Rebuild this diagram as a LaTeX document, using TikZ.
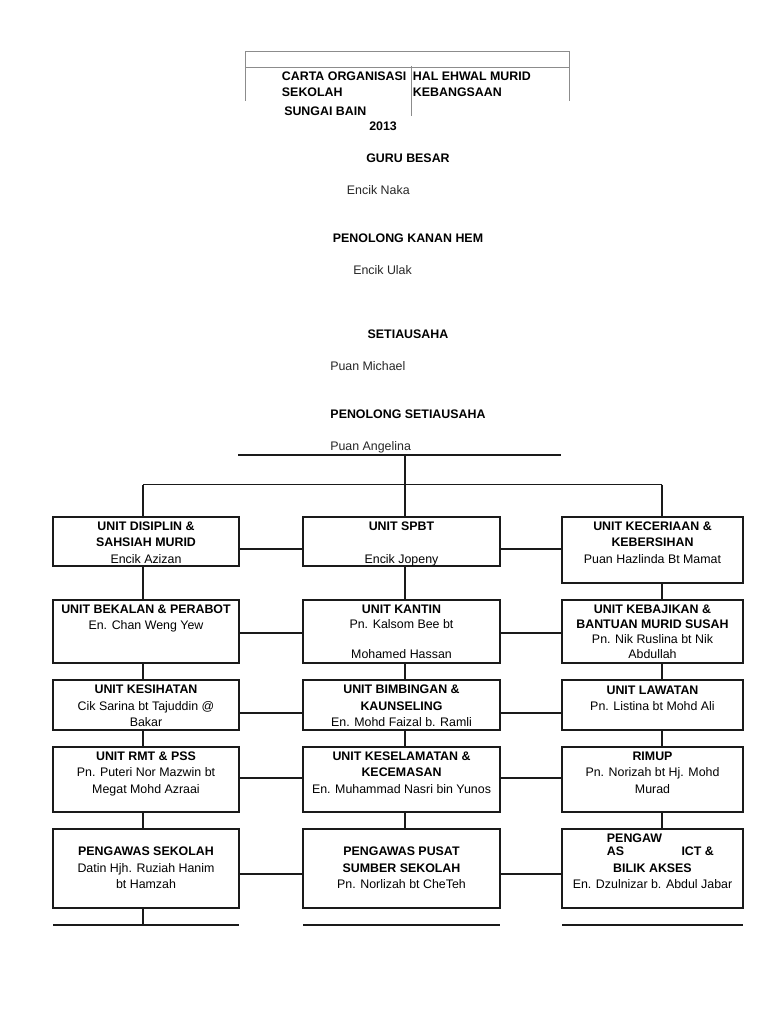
\documentclass[tikz,border=0pt]{standalone}
\usepackage{fontspec}
\setmainfont{Liberation Sans}
\usetikzlibrary{calc,fit}

\definecolor{framegray}{HTML}{8C8C8C}
\definecolor{boxline}{HTML}{1A1A1A}

\tikzset{
  unitbox/.style={draw=boxline, line width=1.5pt, inner sep=0pt, outer sep=0pt},
  unittext/.style={align=center, anchor=base, inner sep=0pt, font=\fontsize{9.3}{12.2}\selectfont},
  tighttext/.style={unittext, font=\fontsize{9.3}{11.3}\selectfont},
  headtext/.style={anchor=base, inner sep=0pt, font=\fontsize{9.3}{12.2}\selectfont\bfseries},
  titletext/.style={anchor=base west, inner sep=0pt, font=\fontsize{9.3}{12.2}\selectfont\bfseries},
  nametext/.style={anchor=base west, inner sep=0pt, font=\fontsize{9.3}{12.2}\selectfont, text=black!85},
  link/.style={draw=boxline, line width=1pt},
  floorline/.style={draw=boxline, line width=1.5pt},
  frameline/.style={draw=framegray, line width=0.75pt}
}

\begin{document}
\begin{tikzpicture}[x=0.75pt,y=-0.75pt]
    \useasboundingbox (0,0) rectangle (768,1024);

    \coordinate (F1) at (245,51.7);
    \coordinate (F2) at (569.3,51.7);
    \coordinate (F3) at (245,67.3);
    \coordinate (F4) at (569.3,67.3);
    \coordinate (F5) at (411,66);
    \draw[frameline] ($(F1)+(0,49)$) -- (F1) -- (F2) -- ($(F2)+(0,49)$);
    \draw[frameline] (F3) -- (F4);
    \draw[frameline] (F5) -- ($(F5)+(0,50)$);

    \node[titletext] (carta) at (281.7,80.7) {CARTA ORGANISASI};
    \node[titletext] (sekolah) at (281.7,96.5) {SEKOLAH};
    \node[titletext] (sungai) at (284,115) {SUNGAI BAIN};
    \node[titletext] (tahun) at (369,130.7) {2013};
    \node[titletext] (hal) at (412.7,80.7) {HAL EHWAL MURID};
    \node[titletext] (bangsa) at (412.7,96.5) {KEBANGSAAN};

    \node[headtext] (gb) at (408,162.7) {GURU BESAR};
    \node[nametext] (gbname) at (346.7,194.5) {Encik Naka};
    \node[headtext] (pk) at (408,242.3) {PENOLONG KANAN HEM};
    \node[nametext] (pkname) at (353,274) {Encik Ulak};
    \node[headtext] (su) at (408,338.3) {SETIAUSAHA};
    \node[nametext] (suname) at (330,370.7) {Puan Michael};
    \node[headtext] (psu) at (408,418.3) {PENOLONG SETIAUSAHA};
    \node[nametext] (psuname) at (330,450) {Puan Angelina};

    \node[unitbox, fit={(53,517) (239,566)}] (u11) {};
    \node[unitbox, fit={(303,517) (500,566)}] (u12) {};
    \node[unitbox, fit={(562,517) (743,583)}] (u13) {};
    \node[unitbox, fit={(53,600) (239,663)}] (u21) {};
    \node[unitbox, fit={(303,600) (500,663)}] (u22) {};
    \node[unitbox, fit={(562,600) (743,663)}] (u23) {};
    \node[unitbox, fit={(53,680) (239,730)}] (u31) {};
    \node[unitbox, fit={(303,680) (500,730)}] (u32) {};
    \node[unitbox, fit={(562,680) (743,730)}] (u33) {};
    \node[unitbox, fit={(53,747) (239,812)}] (u41) {};
    \node[unitbox, fit={(303,747) (500,812)}] (u42) {};
    \node[unitbox, fit={(562,747) (743,812)}] (u43) {};
    \node[unitbox, fit={(53,829) (239,908)}] (u51) {};
    \node[unitbox, fit={(303,829) (500,908)}] (u52) {};
    \node[unitbox, fit={(562,829) (743,908)}] (u53) {};

    \node[unittext] (t11) at ($(u11.north)+(0,46)$) {\textbf{UNIT DISIPLIN \&}\\\textbf{SAHSIAH MURID}\\Encik Azizan};
    \node[unittext] (t12) at ($(u12.north)+(0,46)$) {\textbf{UNIT SPBT}\\[12.2pt]Encik Jopeny};
    \node[unittext] (t13) at ($(u13.north)+(0,46)$) {\textbf{UNIT KECERIAAN \&}\\\textbf{KEBERSIHAN}\\Puan Hazlinda Bt Mamat};
    \node[tighttext] (t21) at ($(u21.north)+(0,29)$) {\textbf{UNIT BEKALAN \& PERABOT}\\En. Chan Weng Yew};
    \node[tighttext] (t22) at ($(u22.north)+(0,58.7)$) {\textbf{UNIT KANTIN}\\Pn. Kalsom Bee bt\\[11.3pt]Mohamed Hassan};
    \node[tighttext] (t23) at ($(u23.north)+(0,58.7)$) {\textbf{UNIT KEBAJIKAN \&}\\\textbf{BANTUAN MURID SUSAH}\\Pn. Nik Ruslina bt Nik\\Abdullah};
    \node[unittext] (t31) at ($(u31.north)+(0,46.5)$) {\textbf{UNIT KESIHATAN}\\Cik Sarina bt Tajuddin @\\Bakar};
    \node[unittext] (t32) at ($(u32.north)+(0,46.5)$) {\textbf{UNIT BIMBINGAN \&}\\\textbf{KAUNSELING}\\En. Mohd Faizal b. Ramli};
    \node[unittext] (t33) at ($(u33.north)+(0,30.3)$) {\textbf{UNIT LAWATAN}\\Pn. Listina bt Mohd Ali};
    \node[unittext] (t41) at ($(u41.north)+(0,46)$) {\textbf{UNIT RMT \& PSS}\\Pn. Puteri Nor Mazwin bt\\Megat Mohd Azraai};
    \node[unittext] (t42) at ($(u42.north)+(0,46)$) {\textbf{UNIT KESELAMATAN \&}\\\textbf{KECEMASAN}\\En. Muhammad Nasri bin Yunos};
    \node[unittext] (t43) at ($(u43.north)+(0,46)$) {\textbf{RIMUP}\\Pn. Norizah bt Hj. Mohd\\Murad};
    \node[unittext] (t51) at ($(u51.north)+(0,59.5)$) {\textbf{PENGAWAS SEKOLAH}\\Datin Hjh. Ruziah Hanim\\bt Hamzah};
    \node[unittext] (t52) at ($(u52.north)+(0,59.5)$) {\textbf{PENGAWAS PUSAT}\\\textbf{SUMBER SEKOLAH}\\Pn. Norlizah bt CheTeh};
    \node[unittext, align=left, anchor=base west, font=\fontsize{9.3}{10}\selectfont] (t53a) at ($(u53.north west)+(44.7,26.5)$) {\textbf{PENGAW}\\\textbf{AS}\hspace{43pt}\textbf{ICT \&}};
    \node[unittext, font=\fontsize{9.3}{12}\selectfont] (t53b) at ($(u53.north)+(0,59.2)$) {\textbf{BILIK AKSES}\\En. Dzulnizar b. Abdul Jabar};

    \coordinate (L) at (238,455);
    \coordinate (R) at (561,455);
    \coordinate (M) at (405,455);
    \coordinate (v1) at (143,484.5);
    \coordinate (v2) at (405,484.5);
    \coordinate (v3) at (662,484.5);
    \coordinate (h1) at (0,549);
    \coordinate (h2) at (0,633);
    \coordinate (h3) at (0,713);
    \coordinate (h4) at (0,778);
    \coordinate (h5) at (0,874);
    \coordinate (b) at (0,925);

    \draw[link] (L) -- (R);
    \draw[link] (M) -- (v2);
    \draw[link] (v1) -- (v3);
    \draw[link] (v1) -- (v1 |- u11.north);
    \draw[link] (v2) -- (v2 |- u12.north);
    \draw[link] (v3) -- (v3 |- u13.north);

    \draw[link] (v1 |- u11.south) -- (v1 |- u21.north);
    \draw[link] (v1 |- u21.south) -- (v1 |- u31.north);
    \draw[link] (v1 |- u31.south) -- (v1 |- u41.north);
    \draw[link] (v1 |- u41.south) -- (v1 |- u51.north);
    \draw[link] (v2 |- u12.south) -- (v2 |- u22.north);
    \draw[link] (v2 |- u22.south) -- (v2 |- u32.north);
    \draw[link] (v2 |- u32.south) -- (v2 |- u42.north);
    \draw[link] (v2 |- u42.south) -- (v2 |- u52.north);
    \draw[link] (v3 |- u13.south) -- (v3 |- u23.north);
    \draw[link] (v3 |- u23.south) -- (v3 |- u33.north);
    \draw[link] (v3 |- u33.south) -- (v3 |- u43.north);
    \draw[link] (v3 |- u43.south) -- (v3 |- u53.north);

    \draw[link] (u11.east |- h1) -- (u12.west |- h1);
    \draw[link] (u12.east |- h1) -- (u13.west |- h1);
    \draw[link] (u21.east |- h2) -- (u22.west |- h2);
    \draw[link] (u22.east |- h2) -- (u23.west |- h2);
    \draw[link] (u31.east |- h3) -- (u32.west |- h3);
    \draw[link] (u32.east |- h3) -- (u33.west |- h3);
    \draw[link] (u41.east |- h4) -- (u42.west |- h4);
    \draw[link] (u42.east |- h4) -- (u43.west |- h4);
    \draw[link] (u51.east |- h5) -- (u52.west |- h5);
    \draw[link] (u52.east |- h5) -- (u53.west |- h5);

    \draw[link] (v1 |- u51.south) -- (v1 |- b);
    \draw[floorline] (u51.south west |- b) -- (u51.south east |- b);
    \draw[floorline] (u52.south west |- b) -- (u52.south east |- b);
    \draw[floorline] (u53.south west |- b) -- (u53.south east |- b);
\end{tikzpicture}
\end{document}
